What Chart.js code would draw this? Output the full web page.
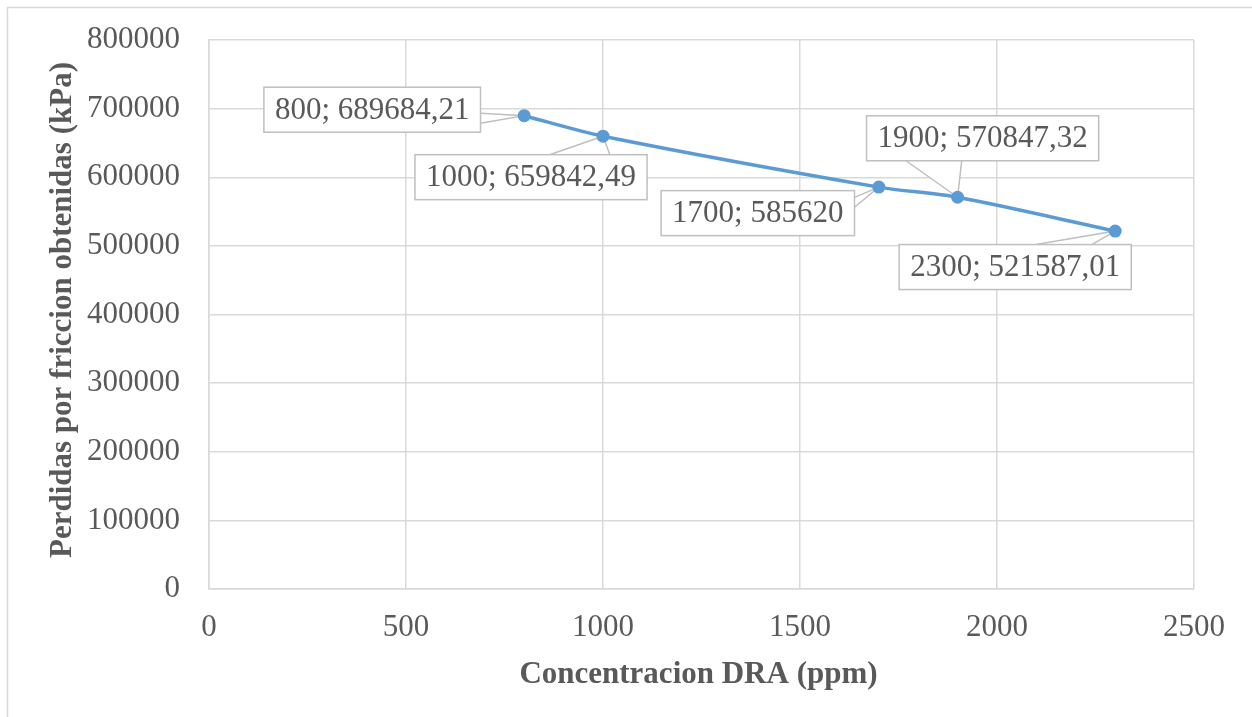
<!DOCTYPE html>
<html>
<head>
<meta charset="utf-8">
<script src="https://cdn.jsdelivr.net/npm/chart.js@4/dist/chart.umd.min.js"></script>
<style>
  html, body { margin: 0; padding: 0; background: #ffffff; }
  #wrap { position: absolute; left: 0; top: 0; width: 1252px; height: 717px; }
</style>
</head>
<body>
<div id="wrap"><canvas id="chart" width="1252" height="717"></canvas></div>
<script>
// DRA concentration (ppm) and the friction losses obtained (kPa)
const concentrations = [800, 1000, 1700, 1900, 2300];
const frictionLosses = [689684.21, 659842.49, 585620, 570847.32, 521587.01];

const xTitle = 'Concentracion DRA (ppm)';
const yTitle = 'Perdidas por friccion obtenidas (kPa)';

// Callout placement for each data label: box centre offset from its point,
// the box edge the pointer leaves from and where along that edge it starts.
const calloutLayout = [
  { dx: -152, dy: -6,  side: 'right',  at: [0.58, 0.80] },
  { dx: -72,  dy: 41,  side: 'top',    at: [0.58, 0.84] },
  { dx: -121, dy: 26,  side: 'right',  at: [0.15, 0.37] },
  { dx: 25,   dy: -59, side: 'bottom', at: [0.17, 0.41] },
  { dx: -100, dy: 36,  side: 'top',    at: [0.59, 0.83] }
];

const SERIF = '"Liberation Serif", "Times New Roman", serif';
const TEXT = '#595959';
const GRID = '#d9d9d9';
const LINE = '#5b9bd5';

function formatValue(v) {
  return String(v).replace('.', ',');
}

const frame = {
  id: 'frame',
  beforeDraw(chart) {
    const ctx = chart.ctx;
    ctx.save();
    ctx.strokeStyle = GRID;
    ctx.lineWidth = 1.5;
    ctx.beginPath();
    ctx.moveTo(7.5, 717);
    ctx.lineTo(7.5, 7.5);
    ctx.lineTo(1252, 7.5);
    ctx.stroke();
    ctx.restore();
  },
  afterDraw(chart) {
    const ctx = chart.ctx;
    const a = chart.chartArea;
    ctx.save();
    ctx.fillStyle = TEXT;
    ctx.font = 'bold 31px ' + SERIF;
    ctx.textAlign = 'center';
    ctx.textBaseline = 'alphabetic';
    ctx.fillText(xTitle, (a.left + a.right) / 2 - 3, 683);
    ctx.translate(71, 310);
    ctx.rotate(-Math.PI / 2);
    ctx.fillText(yTitle, 0, 0);
    ctx.restore();
  }
};

const callouts = {
  id: 'callouts',
  beforeDatasetsDraw(chart) {
    const ctx = chart.ctx;
    const meta = chart.getDatasetMeta(0);
    ctx.save();
    ctx.font = '31px ' + SERIF;
    meta.data.forEach((pt, i) => {
      const lay = calloutLayout[i];
      const text = concentrations[i] + '; ' + formatValue(frictionLosses[i]);
      const w = ctx.measureText(text).width + 22;
      const h = 45;
      const cx = pt.x + lay.dx, cy = pt.y + lay.dy;
      const L = cx - w / 2, T = cy - h / 2, R = cx + w / 2, B = cy + h / 2;
      let p1, p2;
      if (lay.side === 'right') {
        p1 = [R, T + h * lay.at[0]]; p2 = [R, T + h * lay.at[1]];
      } else if (lay.side === 'left') {
        p1 = [L, T + h * lay.at[0]]; p2 = [L, T + h * lay.at[1]];
      } else if (lay.side === 'top') {
        p1 = [L + w * lay.at[0], T]; p2 = [L + w * lay.at[1], T];
      } else {
        p1 = [L + w * lay.at[0], B]; p2 = [L + w * lay.at[1], B];
      }
      // pointer wedge
      ctx.beginPath();
      ctx.moveTo(p1[0], p1[1]);
      ctx.lineTo(pt.x, pt.y);
      ctx.lineTo(p2[0], p2[1]);
      ctx.closePath();
      ctx.fillStyle = '#ffffff';
      ctx.fill();
      ctx.beginPath();
      ctx.moveTo(p1[0], p1[1]);
      ctx.lineTo(pt.x, pt.y);
      ctx.lineTo(p2[0], p2[1]);
      ctx.strokeStyle = '#bfbfbf';
      ctx.lineWidth = 1.5;
      ctx.stroke();
      // box
      ctx.fillStyle = '#ffffff';
      ctx.fillRect(L, T, w, h);
      ctx.strokeRect(L, T, w, h);
      ctx.fillStyle = TEXT;
      ctx.textAlign = 'center';
      ctx.textBaseline = 'middle';
      ctx.fillText(text, cx, cy + 1);
    });
    ctx.restore();
  }
};

new Chart(document.getElementById('chart'), {
  type: 'line',
  data: {
    datasets: [{
      data: concentrations.map((c, i) => ({ x: c, y: frictionLosses[i] })),
      borderColor: LINE,
      backgroundColor: LINE,
      borderWidth: 3.5,
      pointRadius: 6.5,
      pointBorderWidth: 0,
      pointBackgroundColor: LINE,
      tension: 0.3,
      fill: false
    }]
  },
  options: {
    responsive: false,
    animation: false,
    events: [],
    layout: { padding: { left: 0, top: 40, right: 58, bottom: 0 } },
    plugins: {
      legend: { display: false },
      tooltip: { enabled: false },
      title: { display: false }
    },
    scales: {
      x: {
        type: 'linear',
        min: 0,
        max: 2500,
        ticks: {
          stepSize: 500,
          color: TEXT,
          font: { family: SERIF, size: 31 },
          padding: 20,
          maxRotation: 0,
          callback: v => String(v)
        },
        grid: { color: GRID, lineWidth: 1.5, drawTicks: false },
        border: { display: true, color: GRID, width: 1.5 },
        afterFit(scale) {
          scale.height = 128;
          scale.paddingLeft = 0;
          scale.paddingRight = 0;
        }
      },
      y: {
        type: 'linear',
        min: 0,
        max: 800000,
        ticks: {
          stepSize: 100000,
          color: TEXT,
          font: { family: SERIF, size: 31 },
          padding: 29,
          callback: v => String(v)
        },
        grid: { color: GRID, lineWidth: 1.5, drawTicks: false },
        border: { display: true, color: GRID, width: 1.5 },
        afterFit(scale) {
          scale.width = 209;
          scale.paddingTop = 0;
          scale.paddingBottom = 0;
        }
      }
    }
  },
  plugins: [frame, callouts]
});
</script>
</body>
</html>
